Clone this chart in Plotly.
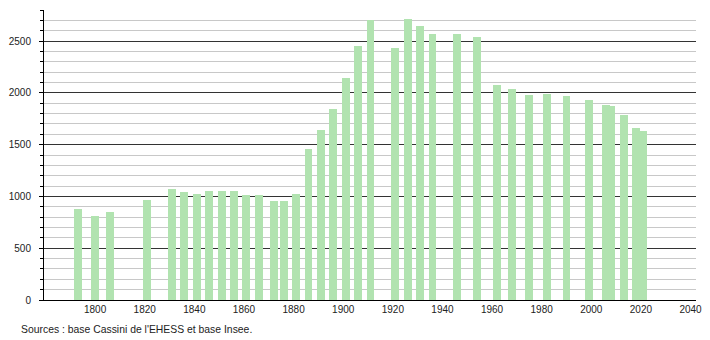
import plotly.graph_objects as go

years = [1793, 1800, 1806, 1821, 1831, 1836, 1841, 1846, 1851, 1856, 1861, 1866,
         1872, 1876, 1881, 1886, 1891, 1896, 1901, 1906, 1911, 1921, 1926, 1931,
         1936, 1946, 1954, 1962, 1968, 1975, 1982, 1990, 1999, 2006, 2008, 2013,
         2018, 2021]
population = [883, 808, 854, 970, 1067, 1047, 1028, 1057, 1057, 1057, 1018, 1018,
              960, 960, 1028, 1455, 1639, 1843, 2143, 2454, 2706, 2434, 2716, 2648,
              2570, 2570, 2541, 2076, 2037, 1979, 1988, 1969, 1930, 1884, 1874, 1786,
              1658, 1632]
x_ticks = [1800, 1820, 1840, 1860, 1880, 1900, 1920, 1940, 1960, 1980, 2000, 2020, 2040]
y_ticks = [0, 500, 1000, 1500, 2000, 2500]
source_text = "Sources : base Cassini de l'EHESS et base Insee."

fig = go.Figure()
fig.add_trace(go.Bar(
    x=years, y=population, width=3.2,
    marker=dict(color="#b1e3b0", line=dict(width=0)),
    hoverinfo="x+y",
))

fig.update_layout(
    width=710, height=340,
    margin=dict(l=44, r=8, t=10, b=40),
    plot_bgcolor="white", paper_bgcolor="white",
    showlegend=False,
    font=dict(family="Liberation Sans, Arial, sans-serif", size=10, color="#222"),
    bargap=0,
)
fig.update_xaxes(
    range=[1779.4, 2042.2], tickvals=x_ticks, ticktext=[str(t) for t in x_ticks],
    showgrid=False, zeroline=False, showline=True, linecolor="black", linewidth=1,
    ticks="", tickfont=dict(size=10, color="#222"),
)
fig.update_yaxes(
    range=[0, 2800], tickvals=y_ticks, showgrid=True, gridcolor="#333", gridwidth=1,
    zeroline=False, showline=True, linecolor="black", linewidth=1,
    ticks="outside", ticklen=4, tickcolor="black", ticklabelstandoff=6,
    minor=dict(dtick=100, showgrid=True, gridcolor="#c8c8c8", gridwidth=1,
               ticks="outside", ticklen=3, tickcolor="black"),
    tickfont=dict(size=10, color="#222"),
)
fig.add_annotation(
    text=source_text, xref="paper", yref="paper", x=-0.039, y=-0.103,
    xanchor="left", yanchor="middle", showarrow=False,
    font=dict(size=10.4, color="#222"),
)
fig.write_html("out.html")
